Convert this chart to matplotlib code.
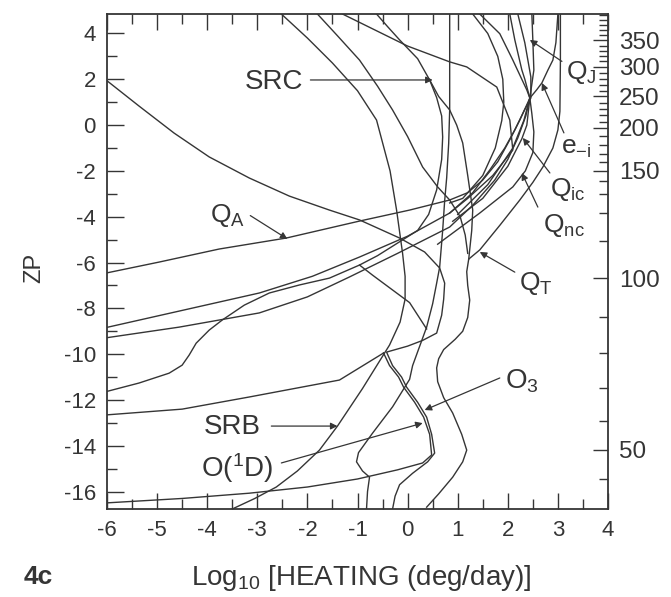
import numpy as np
import matplotlib
matplotlib.use("Agg")
import matplotlib.pyplot as plt

plt.rcParams['font.family'] = ['Liberation Sans', 'DejaVu Sans']
plt.rcParams['mathtext.fontset'] = 'custom'
plt.rcParams['mathtext.rm'] = 'Liberation Sans'
plt.rcParams['mathtext.it'] = 'Liberation Sans'

INK = '#353535'

# Heating-rate profiles: log10 heating (deg/day) against pressure level ZP
qa_x = [-6.02, -4.96, -3.76, -2.42, -0.96, 0.04, 0.84, 1.20, 1.50, 1.80, 2.05, 2.24, 2.44,
        2.34, 2.28, 2.14, 2.04]
qa_zp = [-6.46, -5.98, -5.41, -4.93, -4.19, -3.71, -3.27, -2.95, -2.40, -1.60, -0.60, 0.22, 1.18,
         2.00, 2.41, 3.72, 4.85]

l2_x = [-6.06, -4.56, -2.96, -1.90, -0.96, 0.00, 0.84, 1.30, 1.64, 1.94, 2.14, 2.32, 2.46,
        2.46, 2.34, 2.20]
l2_zp = [-8.86, -8.12, -7.33, -6.60, -5.76, -4.85, -3.84, -2.95, -1.96, -1.00, -0.21, 0.60, 1.18,
         2.10, 3.59, 4.85]

l3_x = [-6.06, -4.56, -2.96, -2.00, -1.16, -0.20, 0.84, 1.30, 1.74, 2.00, 2.20, 2.36, 2.44,
        2.52, 2.50, 2.48]
l3_zp = [-9.30, -8.82, -8.20, -7.50, -6.63, -5.60, -4.45, -3.50, -2.40, -1.50, -0.56, 0.40, 1.18,
         2.40, 3.70, 4.85]

ei_x = [1.00, 1.60, 2.10, 2.32, 2.44, 2.58, 2.68, 2.80, 2.90, 2.96, 3.00]
ei_zp = [-3.90, -2.60, -1.00, 0.20, 1.18, 1.55, 1.84, 2.40, 2.84, 3.60, 4.85]

qic_x = [0.90, 1.50, 2.00, 2.28, 2.38, 2.44]
qic_zp = [-4.20, -3.20, -1.80, -0.60, 0.00, 1.18]

qnc_x = [0.60, 1.44, 2.10, 2.35, 2.50, 2.52, 2.48, 2.44]
qnc_zp = [-5.20, -3.84, -2.70, -2.00, -1.20, -0.30, 0.50, 1.18]

u3_x = [2.44, 2.38, 2.10, 1.84, 1.44]
u3_zp = [1.18, 1.53, 2.84, 3.99, 4.85]

m_x = [0.84, 1.10, 1.50, 1.75, 1.88, 1.92, 1.90, 1.80, 1.60, 1.30]
m_zp = [-3.40, -3.20, -2.20, -1.00, 0.20, 1.00, 2.00, 3.00, 4.00, 4.85]

k_x = [0.44, 0.62, 0.84, 0.98, 1.10, 1.20, 1.30, 1.28, 1.22]
k_zp = [1.97, 1.25, 0.66, 0.00, -0.78, -2.20, -3.71, -4.60, -5.85]

linec_x = [0.84, 1.20, 1.70, 2.10, 2.04, 1.78, 1.18, 0.84, 0.00, -1.30]
linec_zp = [-3.84, -3.20, -2.20, -1.09, 0.22, 1.66, 2.54, 2.76, 3.45, 4.85]

src_x = [-6.06, -5.36, -4.76, -4.50, -4.36, -4.22, -3.96, -3.70, -3.26, -2.76, -2.16, -1.56,
         -0.96, -0.60, -0.20, 0.20, 0.42, 0.58, 0.68, 0.70, 0.68, 0.58, 0.44, 0.20, -0.16,
         -0.40, -0.62]
src_zp = [-11.66, -11.26, -10.83, -10.48, -10.04, -9.52, -8.95, -8.51, -7.86, -7.33, -6.98, -6.68,
          -6.11, -5.70, -5.15, -4.60, -3.90, -2.83, -1.50, -0.52, 0.40, 1.20, 1.97, 2.90, 3.72,
          4.30, 4.85]

hook_x = [-0.96, -0.70, 0.04, 0.38]
hook_zp = [-6.11, -6.55, -7.75, -8.90]

o3_x = [-6.02, -5.36, -4.66, -3.96, -3.16, -2.36, -1.56, -0.96, -0.16, 0.34, 0.64, 0.74, 0.72,
        0.68, 0.58, 0.30, 0.00, -0.42, -0.30, -0.12, -0.02, 0.20, 0.38, 0.48, 0.54, 0.40, 0.10,
        -0.16, -0.25, -0.30]
o3_zp = [1.97, 0.83, -0.35, -1.39, -2.31, -3.10, -3.71, -4.14, -4.93, -5.54, -6.24, -6.90, -7.60,
         -8.30, -9.08, -9.40, -9.65, -9.91, -10.50, -11.00, -11.44, -12.10, -12.75, -13.50, -14.32,
         -14.70, -15.20, -15.70, -16.20, -16.76]

o1d_x = [-6.06, -4.50, -3.16, -2.00, -1.00, -0.20, 0.30, 0.48, 0.44, 0.32, 0.14, -0.08, -0.18,
         -0.36, -0.48]
o1d_zp = [-16.50, -16.30, -16.07, -15.80, -15.45, -15.05, -14.75, -14.40, -13.50, -12.75, -12.10,
          -11.44, -11.00, -10.50, -9.95]

o1d_top_x = [-6.06, -4.50, -3.16, -1.36, -0.48]
o1d_top_zp = [-12.66, -12.40, -11.87, -11.13, -9.95]

notch_x = [-0.82, -0.80, -0.76, -0.90, -1.02, -0.98, -0.70, -0.30, 0.04, 0.10, 0.25, 0.38, 0.50,
           0.58, 0.64, 0.70, 0.74, 0.78, 0.82, 0.84, 0.84]
notch_zp = [-16.76, -16.00, -15.37, -15.10, -14.70, -14.30, -13.45, -12.30, -11.10, -10.50, -9.60,
            -8.82, -7.80, -6.90, -6.20, -4.60, -3.30, -2.30, -0.80, 0.66, 4.85]

srb_x = [-3.50, -3.05, -2.62, -2.20, -1.76, -1.40, -0.90, -0.36, -0.15, -0.05, -0.05, -0.10,
         -0.22, -0.35, -0.62, -1.00, -1.50, -2.00, -2.52]
srb_zp = [-16.76, -16.30, -15.80, -15.10, -14.19, -13.14, -11.50, -9.60, -8.60, -7.60, -6.60,
          -5.60, -3.71, -2.00, 0.22, 1.50, 2.71, 3.80, 4.85]

arcb_x = [1.20, 1.15, 1.05, 0.84, 0.60, 0.30, 0.00, -0.30, -0.60, -0.96, -1.40, -1.80]
arcb_zp = [-5.60, -4.80, -4.00, -3.27, -2.70, -1.83, -0.50, 0.66, 1.70, 2.84, 3.90, 4.85]

qt_x = [0.38, 0.62, 0.90, 1.10, 1.18, 1.08, 0.90, 0.72, 0.60, 0.58, 0.62, 0.72, 0.95, 1.10, 1.20,
        1.24, 1.20, 1.18, 1.22, 1.44, 1.85, 2.24, 2.50, 2.70, 2.90, 3.00, 3.04, 3.05, 3.05]
qt_zp = [-16.68, -16.10, -15.37, -14.70, -14.19, -13.50, -12.57, -11.90, -11.20, -10.60, -10.20,
         -9.80, -9.35, -9.00, -8.40, -7.64, -7.00, -6.40, -5.85, -5.45, -4.35, -3.27, -2.50, -1.83,
         -1.00, -0.21, 0.60, 2.80, 4.85]

profiles = [
    (qa_x, qa_zp), (l2_x, l2_zp), (l3_x, l3_zp), (ei_x, ei_zp), (qic_x, qic_zp),
    (qnc_x, qnc_zp), (u3_x, u3_zp), (m_x, m_zp), (k_x, k_zp), (linec_x, linec_zp),
    (src_x, src_zp), (hook_x, hook_zp), (o3_x, o3_zp), (o1d_x, o1d_zp),
    (o1d_top_x, o1d_top_zp), (notch_x, notch_zp), (srb_x, srb_zp), (arcb_x, arcb_zp),
    (qt_x, qt_zp),
]

# Altitude (km) scale on the right-hand axis, placed on the ZP grid
alt_km = [40, 50, 60, 70, 80, 90, 100, 110, 120, 130, 140, 150, 200, 250, 300, 350, 400]
alt_zp = [-15.45, -14.17, -12.92, -11.48, -9.95, -8.38, -6.68, -5.06, -3.84, -3.01, -2.44,
          -2.00, -0.12, 1.25, 2.55, 3.70, 4.80]
alt_labels = [50, 100, 150, 200, 250, 300, 350]

x_ticks = [-6, -5, -4, -3, -2, -1, 0, 1, 2, 3, 4]
zp_ticks = [4, 2, 0, -2, -4, -6, -8, -10, -12, -14, -16]

# Labelled curves: text, font size, text position, arrow start, arrow tip
labels = [
    ('SRC', 20, (-2.66, 1.90), (-1.94, 1.97), (0.50, 1.97)),
    ('Q$_\\mathrm{A}$', 19, (-3.60, -3.93), (-3.14, -3.95), (-2.40, -4.97)),
    ('Q$_\\mathrm{J}$', 19, (3.46, 2.30), (3.08, 2.78), (2.44, 3.72)),
    ('e$_{\\mathrm{-i}}$', 19, (3.36, -1.00), (3.12, -0.34), (2.68, 1.84)),
    ('Q$_\\mathrm{ic}$', 19, (3.20, -2.83), (2.84, -2.09), (2.30, -0.56)),
    ('Q$_\\mathrm{nc}$', 19, (3.12, -4.40), (2.60, -3.58), (2.28, -2.09)),
    ('Q$_\\mathrm{T}$', 19, (2.56, -6.90), (2.14, -6.42), (1.44, -5.54)),
    ('O$_3$', 20, (2.28, -11.20), (1.84, -11.04), (0.34, -12.44)),
    ('SRB', 20, (-3.50, -13.16), (-2.72, -13.14), (-1.40, -13.14)),
    ('O($^1$D)', 20, (-3.40, -14.97), (-2.52, -14.75), (0.30, -13.01)),
]

fig = plt.figure(figsize=(6.71, 5.97), dpi=100)
ax = fig.add_axes([107 / 671, 88 / 597, 501 / 671, 495 / 597])

for xs, zs in profiles:
    ax.plot(xs, zs, color=INK, lw=1.0, solid_joinstyle='round')

ax.set_xlim(-6, 4)
ax.set_ylim(-16.76, 4.85)

ax.set_xticks(x_ticks)
ax.set_xticklabels([str(v) for v in x_ticks])
ax.set_xticks(np.arange(-5.5, 4, 1.0), minor=True)
ax.set_yticks(zp_ticks)
ax.set_yticklabels([str(v) for v in zp_ticks])
ax.set_yticks(np.arange(-15, 5, 2), minor=True)

ax.tick_params(axis='x', which='major', direction='in', length=11.5, width=1.0,
               top=True, bottom=True, labelsize=16, pad=8, colors=INK)
ax.tick_params(axis='x', which='minor', direction='in', length=7.5, width=1.0,
               top=True, bottom=True, colors=INK)
ax.tick_params(axis='y', which='major', direction='in', length=12, width=1.0,
               left=True, right=False, labelsize=16, pad=8, colors=INK)
ax.tick_params(axis='y', which='minor', direction='in', length=7, width=1.0,
               left=True, right=False, colors=INK)
for s in ax.spines.values():
    s.set_linewidth(1.3)
    s.set_color(INK)

ax2 = ax.twinx()
ax2.set_ylim(ax.get_ylim())
major_zp = np.interp(alt_labels, alt_km, alt_zp)
minor_km = [k for k in range(40, 401, 10) if k not in alt_labels]
minor_zp = np.interp(minor_km, alt_km, alt_zp)
ax2.set_yticks(major_zp)
ax2.set_yticklabels([str(v) for v in alt_labels])
ax2.set_yticks(minor_zp, minor=True)
ax2.tick_params(axis='y', which='major', direction='in', length=11, width=1.0,
                labelsize=17.5, pad=8, colors=INK)
ax2.tick_params(axis='y', which='minor', direction='in', length=6.5, width=1.0, colors=INK)
for s in ax2.spines.values():
    s.set_visible(False)

for text, size, tpos, start, tip in labels:
    ax.text(tpos[0], tpos[1], text, fontsize=size, color=INK, ha='center', va='center')
    ax.annotate('', xy=tip, xytext=start,
                arrowprops=dict(arrowstyle='-|>', color=INK, lw=0.9,
                                mutation_scale=10, shrinkA=0, shrinkB=0))

fig.text(361 / 671, 1 - 578 / 597, 'Log$_{10}$ [HEATING (deg/day)]', fontsize=20,
         color=INK, ha='center', va='center')
fig.text(34 / 671, 1 - 268 / 597, 'ZP', fontsize=17, color=INK, rotation=90,
         ha='center', va='center')
fig.text(38 / 671, 1 - 577 / 597, '4c', fontsize=19, color=INK, ha='center',
         va='center', fontweight='bold')

fig.savefig('out.png', dpi=100)
